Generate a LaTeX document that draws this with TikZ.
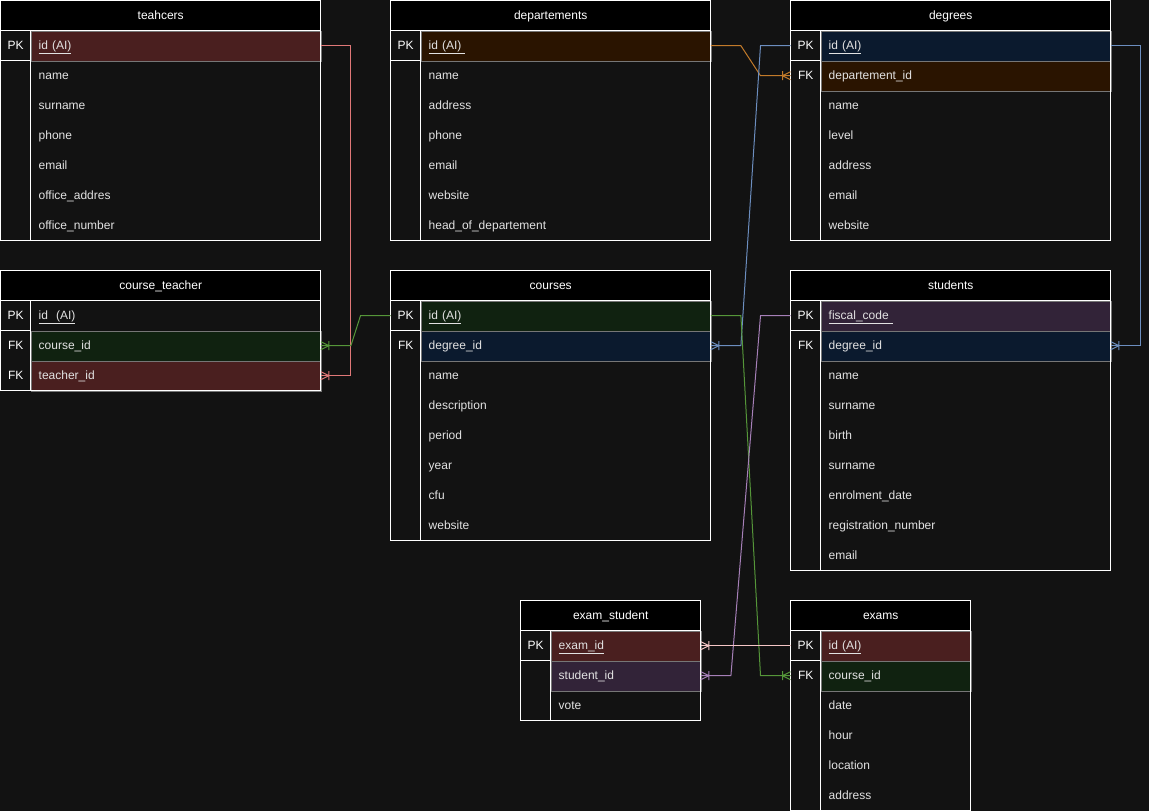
\documentclass[tikz,border=0pt]{standalone}
\usepackage{fontspec}
\setmainfont{Liberation Sans}
\usetikzlibrary{calc}
\definecolor{bg}{HTML}{121212}
\definecolor{fg}{HTML}{E2E2E2}
\definecolor{cellb}{HTML}{767676}
\definecolor{cred}{HTML}{4A1F1F}
\definecolor{cgreen}{HTML}{102210}
\definecolor{cnavy}{HTML}{0B1A2E}
\definecolor{cbrown}{HTML}{2A1400}
\definecolor{cpurple}{HTML}{322338}
\definecolor{lred}{HTML}{E07878}
\definecolor{lgreen}{HTML}{559639}
\definecolor{lbrown}{HTML}{C27A2A}
\definecolor{lblue}{HTML}{6C8EBF}
\definecolor{lpurple}{HTML}{A680B8}
\definecolor{lpink}{HTML}{F5C6C6}
\tikzset{
  every node/.style={font=\fontsize{12pt}{14pt}\selectfont},
  hdr/.style={anchor=north west, fill=black, text=white, minimum height=30pt, inner sep=0pt,
    text height=10pt, text depth=2pt},
  keyc/.style={anchor=north west, minimum width=30pt, minimum height=30pt, inner sep=0pt, text=white,
    text height=10pt, text depth=2pt},
  fld/.style={anchor=north west, minimum height=30pt, minimum width=290pt, text width=274pt,
    inner xsep=8pt, inner ysep=0pt, align=left, text=fg, text height=10pt, text depth=2pt},
  fldn/.style={fld, minimum width=150pt, text width=134pt},
  cr/.style={fill=cred, draw=cellb},
  cg/.style={fill=cgreen, draw=cellb},
  cn/.style={fill=cnavy, draw=cellb},
  cb/.style={fill=cbrown, draw=cellb},
  cp/.style={fill=cpurple, draw=cellb},
  frame/.style={draw=white, line width=1pt},
  conn/.style={line width=1pt},
  crow/.pic={\draw[line width=1pt] (0,-4) -- (8,0) -- (0,4) (8,-4.5) -- (8,4.5);}
}
\newcommand\tframe[4]{%
  \draw[frame] (#1,#2) rectangle ++(#3,{30+30*#4});
  \draw[frame] (#1,{#2+30}) -- ++(#3,0);
  \draw[frame] ({#1+30},{#2+30}) -- ++(0,{30*#4});
  \draw[frame] (#1,{#2+60}) -- ++(30,0);}
\begin{document}
\begin{tikzpicture}[x=1pt,y=-1pt]
\fill[bg] (0,0) rectangle (1149,811);
\useasboundingbox (0,0) rectangle (1149,811);

% ---------- teahcers
\node[hdr,minimum width=320pt] (th) at (0.5,0.5) {teahcers};
\node[keyc] (tk1) at (0.5,30.5) {PK};
\node[fld,cr] (t1) at (30.5,30.5) {\underline{id (AI)}};
\node[fld] (t2) at (30.5,60.5) {name};
\node[fld] (t3) at (30.5,90.5) {surname};
\node[fld] (t4) at (30.5,120.5) {phone};
\node[fld] (t5) at (30.5,150.5) {email};
\node[fld] (t6) at (30.5,180.5) {office\_addres};
\node[fld] (t7) at (30.5,210.5) {office\_number};
\tframe{0.5}{0.5}{320}{7}

% ---------- departements
\node[hdr,minimum width=320pt] (dh) at (390.5,0.5) {departements};
\node[keyc] (dk1) at (390.5,30.5) {PK};
\node[fld,cb] (d1) at (420.5,30.5) {\underline{id (AI)\ }};
\node[fld] (d2) at (420.5,60.5) {name};
\node[fld] (d3) at (420.5,90.5) {address};
\node[fld] (d4) at (420.5,120.5) {phone};
\node[fld] (d5) at (420.5,150.5) {email};
\node[fld] (d6) at (420.5,180.5) {website};
\node[fld] (d7) at (420.5,210.5) {head\_of\_departement};
\tframe{390.5}{0.5}{320}{7}

% ---------- degrees
\node[hdr,minimum width=320pt] (gh) at (790.5,0.5) {degrees};
\node[keyc] (gk1) at (790.5,30.5) {PK};
\node[keyc] (gk2) at (790.5,60.5) {FK};
\node[fld,cn] (g1) at (820.5,30.5) {\underline{id (AI)}};
\node[fld,cb] (g2) at (820.5,60.5) {departement\_id};
\node[fld] (g3) at (820.5,90.5) {name};
\node[fld] (g4) at (820.5,120.5) {level};
\node[fld] (g5) at (820.5,150.5) {address};
\node[fld] (g6) at (820.5,180.5) {email};
\node[fld] (g7) at (820.5,210.5) {website};
\tframe{790.5}{0.5}{320}{7}

% ---------- course_teacher
\node[hdr,minimum width=320pt] (cth) at (0.5,270.5) {course\_teacher};
\node[keyc] (ctk1) at (0.5,300.5) {PK};
\node[keyc] (ctk2) at (0.5,330.5) {FK};
\node[keyc] (ctk3) at (0.5,360.5) {FK};
\node[fld] (ct1) at (30.5,300.5) {\underline{id\ \ (AI)}};
\node[fld,cg] (ct2) at (30.5,330.5) {course\_id};
\node[fld,cr] (ct3) at (30.5,360.5) {teacher\_id};
\tframe{0.5}{270.5}{320}{3}

% ---------- courses
\node[hdr,minimum width=320pt] (ch) at (390.5,270.5) {courses};
\node[keyc] (ck1) at (390.5,300.5) {PK};
\node[keyc] (ck2) at (390.5,330.5) {FK};
\node[fld,cg] (c1) at (420.5,300.5) {\underline{id (AI)}};
\node[fld,cn] (c2) at (420.5,330.5) {degree\_id};
\node[fld] (c3) at (420.5,360.5) {name};
\node[fld] (c4) at (420.5,390.5) {description};
\node[fld] (c5) at (420.5,420.5) {period};
\node[fld] (c6) at (420.5,450.5) {year};
\node[fld] (c7) at (420.5,480.5) {cfu};
\node[fld] (c8) at (420.5,510.5) {website};
\tframe{390.5}{270.5}{320}{8}

% ---------- students
\node[hdr,minimum width=320pt] (sh) at (790.5,270.5) {students};
\node[keyc] (sk1) at (790.5,300.5) {PK};
\node[keyc] (sk2) at (790.5,330.5) {FK};
\node[fld,cp] (s1) at (820.5,300.5) {\underline{fiscal\_code\ }};
\node[fld,cn] (s2) at (820.5,330.5) {degree\_id};
\node[fld] (s3) at (820.5,360.5) {name};
\node[fld] (s4) at (820.5,390.5) {surname};
\node[fld] (s5) at (820.5,420.5) {birth};
\node[fld] (s6) at (820.5,450.5) {surname};
\node[fld] (s7) at (820.5,480.5) {enrolment\_date};
\node[fld] (s8) at (820.5,510.5) {registration\_number};
\node[fld] (s9) at (820.5,540.5) {email};
\tframe{790.5}{270.5}{320}{9}

% ---------- exam_student
\node[hdr,minimum width=180pt] (esh) at (520.5,600.5) {exam\_student};
\node[keyc] (esk1) at (520.5,630.5) {PK};
\node[fldn,cr] (es1) at (550.5,630.5) {\underline{exam\_id}};
\node[fldn,cp] (es2) at (550.5,660.5) {student\_id};
\node[fldn] (es3) at (550.5,690.5) {vote};
\tframe{520.5}{600.5}{180}{3}

% ---------- exams
\node[hdr,minimum width=180pt] (eh) at (790.5,600.5) {exams};
\node[keyc] (ek1) at (790.5,630.5) {PK};
\node[keyc] (ek2) at (790.5,660.5) {FK};
\node[fldn,cr] (e1) at (820.5,630.5) {\underline{id (AI)}};
\node[fldn,cg] (e2) at (820.5,660.5) {course\_id};
\node[fldn] (e3) at (820.5,690.5) {date};
\node[fldn] (e4) at (820.5,720.5) {hour};
\node[fldn] (e5) at (820.5,750.5) {location};
\node[fldn] (e6) at (820.5,780.5) {address};
\tframe{790.5}{600.5}{180}{6}

% ---------- connectors
\draw[conn,lred] (t1.east) -- ++(30,0) |- (ct3.east);
\pic[color=lred] at (ct3.east) {crow};

\draw[conn,lgreen] (ck1.west) -- ++(-30,0) -- ([xshift=30pt]ct2.east) -- (ct2.east);
\pic[color=lgreen] at (ct2.east) {crow};

\draw[conn,lbrown] (d1.east) -- ++(30,0) -- ([xshift=-30pt]gk2.west) -- (gk2.west);
\pic[color=lbrown,xscale=-1] at (gk2.west) {crow};

\draw[conn,lblue] (gk1.west) -- ++(-30,0) -- ([xshift=30pt]c2.east) -- (c2.east);
\pic[color=lblue] at (c2.east) {crow};

\draw[conn,lblue] (g1.east) -- ++(30,0) |- (s2.east);
\pic[color=lblue] at (s2.east) {crow};

\draw[conn,lgreen] (c1.east) -- ++(30,0) -- ([xshift=-30pt]ek2.west) -- (ek2.west);
\pic[color=lgreen,xscale=-1] at (ek2.west) {crow};

\draw[conn,lpurple] (sk1.west) -- ++(-30,0) -- ([xshift=30pt]es2.east) -- (es2.east);
\pic[color=lpurple] at (es2.east) {crow};

\draw[conn,lpink] (ek1.west) -- (es1.east);
\pic[color=lpink] at (es1.east) {crow};
\end{tikzpicture}
\end{document}
